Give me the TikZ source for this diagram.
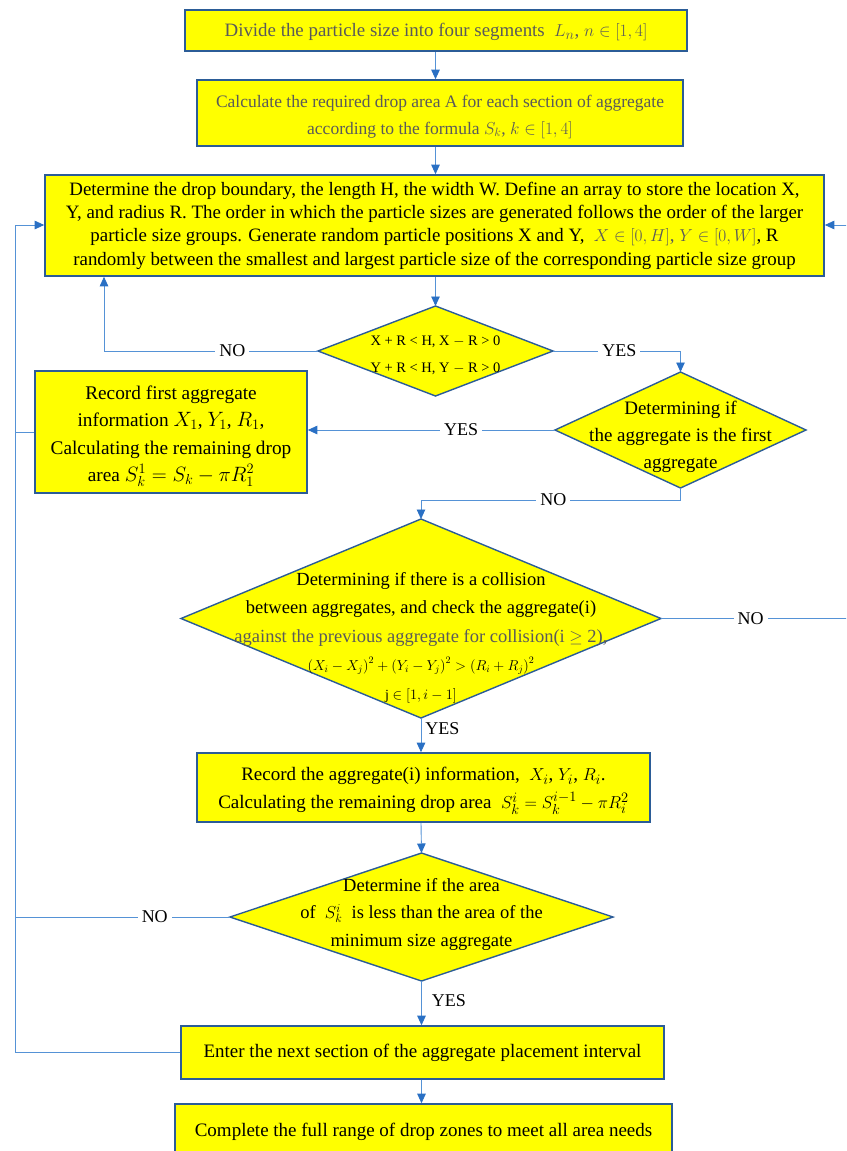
\documentclass[tikz,border=0pt]{standalone}
\usepackage{fontspec}
\setmainfont{Liberation Serif}
\usetikzlibrary{shapes.geometric,arrows.meta,calc}
\definecolor{fillyellow}{HTML}{FFFF00}
\definecolor{boxblue}{HTML}{2B5C97}
\definecolor{lineblue}{HTML}{5592D6}
\definecolor{tipblue}{HTML}{2A70C4}
\definecolor{softgray}{HTML}{5A5A5A}
\newcommand{\fsz}[2]{\fontsize{#1}{#2}\selectfont}
\newcommand{\tallstrut}[1]{\rule{0pt}{#1}}
\begin{document}
\begin{tikzpicture}[x=1pt,y=-1pt,
  box/.style={draw=boxblue,line width=1.6pt,fill=fillyellow,align=center,inner sep=0pt,font=\fsz{19}{23}},
  dia/.style={diamond,draw=boxblue,line width=1.4pt,fill=fillyellow,inner sep=0pt,outer sep=0pt},
  dtext/.style={align=center,inner sep=0pt,font=\fsz{19}{27}},
  flow/.style={draw=lineblue,line width=0.9pt},
  arr/.style={flow,-{Triangle[length=9.5pt,width=8.5pt,fill=tipblue,color=tipblue]}},
  lbl/.style={fill=white,inner sep=4pt,font=\fsz{18}{20}},
  side/.style={inner sep=0pt,font=\fsz{18}{20}}]
\useasboundingbox (0,0) rectangle (846,1151);
\clip (0,0) rectangle (846,1151);

% process boxes
\node[box,minimum width=502pt,minimum height=41pt,text=softgray,font=\fsz{18.9}{23}] (b1) at (436,30.5)
  {\tallstrut{17pt}Divide the particle size into four segments\ \ $L_n$,\ $n\in[1,4]$};
\node[box,minimum width=486pt,minimum height=66pt,text=softgray,font=\fsz{17.5}{27}] (b2) at (440,113)
  {\tallstrut{20pt}Calculate the required drop area A for each section of aggregate\\
   according to the formula $S_k$,\ $k\in[1,4]$};
\node[box,minimum width=779pt,minimum height=101pt,font=\fsz{18.9}{23.3}] (b3) at (434.5,225.5)
  {Determine the drop boundary, the length H, the width W. Define an array to store the location X,\\
   Y, and radius R. The order in which the particle sizes are generated follows the order of the larger\\
   particle size groups. Generate random particle positions X and Y,\ \ {\color{softgray}$X\in[0,H]$,\ $Y\in[0,W]$}, R\\
   randomly between the smallest and largest particle size of the corresponding particle size group};
\node[box,minimum width=272pt,minimum height=122pt,font=\fsz{19.3}{27.3}] (b4) at (171,432)
  {\tallstrut{22pt}Record first aggregate\\
   information $X_1$,\ $Y_1$,\ $R_1$,\\
   Calculating the remaining drop\\
   area $S_k^1=S_k-\pi R_1^2$};
\node[box,minimum width=453pt,minimum height=69pt,font=\fsz{19}{28}] (b5) at (423.5,787.5)
  {\tallstrut{20pt}Record the aggregate(i) information,\ \ $X_i$,\ $Y_i$,\ $R_i$.\\
   Calculating the remaining drop area\ \ $S_k^i=S_k^{i-1}-\pi R_i^2$};
\node[box,minimum width=483pt,minimum height=53pt] (b6) at (422.5,1052.5)
  {Enter the next section of the aggregate placement interval};
\node[box,minimum width=497pt,minimum height=56pt] (b7) at (423.5,1132)
  {Complete the full range of drop zones to meet all area needs};

% decisions
\node[dia,minimum width=235pt,minimum height=90pt] (d1) at (435.5,351) {};
\node[dtext,font=\fsz{14.5}{27}] (d1t) at (435.5,355)
  {X + R < H, X $-$ R > 0\\ Y + R < H, Y $-$ R > 0};
\node[dia,minimum width=251pt,minimum height=116pt] (d2) at (680.5,430) {};
\node[dtext] (d2t) at (680.5,437)
  {Determining if\\ the aggregate is the first\\ aggregate};
\node[dia,minimum width=480pt,minimum height=199pt] (d3) at (421,618.5) {};
\node[dtext,font=\fsz{18.5}{28.5}] (d3t) at (421,637.5)
  {Determining if there is a collision\\
   between aggregates, and check the aggregate(i)\\
   {\color{softgray}against the previous aggregate for collision(i $\geq$ 2),}\\
   {\fsz{14}{28.5}$\left(X_i-X_j\right)^2+\left(Y_i-Y_j\right)^2>\left(R_i+R_j\right)^2$}\\
   {\fsz{14}{28.5}j $\in[1,i-1]$}};
\node[dia,minimum width=383pt,minimum height=128pt] (d4) at (421.5,917) {};
\node[dtext,font=\fsz{18.5}{27.5}] (d4t) at (421.5,914)
  {Determine if the area\\
   of\ \ $S_k^i$\ \ is less than the area of the\\
   minimum size aggregate};

% bend points
\coordinate (c1) at (104,351);
\coordinate (c2) at (680.5,351);
\coordinate (c3) at (680.5,500);
\coordinate (c4) at (421,500);
\coordinate (c5) at (847.5,618.5);
\coordinate (c6) at (847.5,225);
\coordinate (c7) at (15,1052.5);
\coordinate (c8) at (15,225);
\coordinate (c9) at (15,432);
\coordinate (c10) at (15,917);

% straight runs down the middle
\draw[arr] (b1.south -| d1.north) -- (b2.north -| d1.north);
\draw[arr] (b2.south -| d1.north) -- (b3.north -| d1.north);
\draw[arr] (b3.south -| d1.north) -- (d1.north);
\draw[arr] (d3.south) -- node[side,anchor=west,xshift=4pt,pos=0.3] {YES} (b5.north -| d3.south);
\draw[arr] (b5.south -| d3.south) -- (d4.north);
\draw[arr] (d4.south) -- node[side,anchor=west,xshift=10pt,pos=0.45] {YES} (b6.north -| d4.south);
\draw[arr] (b6.south -| d4.south) -- (b7.north -| d4.south);

% branches
\draw[arr] (d1.west) -- node[lbl,pos=0.4] {NO} (c1) -- (b3.south -| c1);
\draw[arr] (d1.east) -- node[lbl,pos=0.52] {YES} (c2) -- (d2.north);
\draw[arr] (d2.west) -- node[lbl,pos=0.38] {YES} (b4.east |- d2.west);
\draw[arr] (d2.south) -- (c3) -- node[lbl,pos=0.49] {NO} (c4) -- (d3.north);
\draw[arr] (d3.east) -- node[lbl,pos=0.48] {NO} (c5) -- (c6) -- (b3.east |- c6);

% return line on the left
\draw[arr] (b6.west) -- (c7) -- (c8) -- (b3.west |- c8);
\draw[flow] (b4.west |- c9) -- (c9);
\draw[flow] (d4.west) -- node[lbl,pos=0.35] {NO} (c10);
\end{tikzpicture}
\end{document}
